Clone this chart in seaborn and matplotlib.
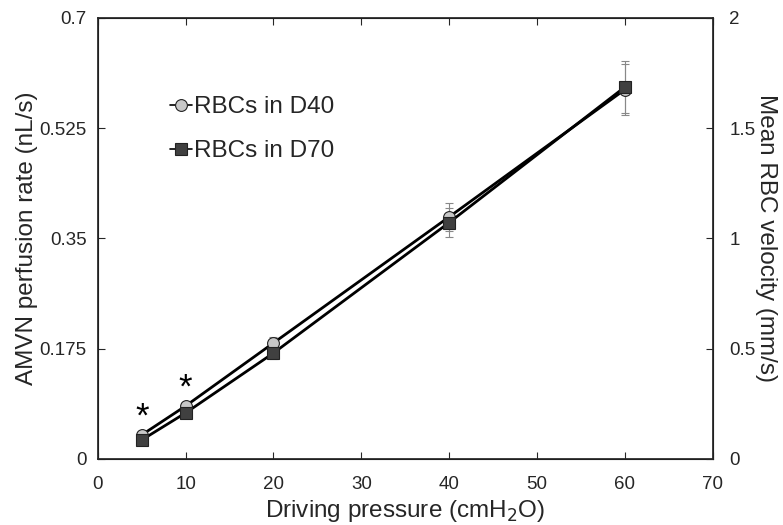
import matplotlib
matplotlib.use("Agg")
import matplotlib.pyplot as plt
import seaborn as sns
import pandas as pd
import numpy as np

pressure = [5, 10, 20, 40, 60]
d40_rate = [0.038, 0.084, 0.184, 0.384, 0.586]
d40_err = [0.004, 0.005, 0.010, 0.022, 0.040]
d70_rate = [0.030, 0.073, 0.168, 0.375, 0.590]
d70_err = [0.003, 0.005, 0.010, 0.023, 0.041]
series_names = ["RBCs in D40", "RBCs in D70"]
star_x = [5, 10]
star_y = [0.066, 0.113]

sns.set_theme(style="ticks")
plt.rcParams['font.family'] = ['Liberation Sans', 'DejaVu Sans']

df = pd.DataFrame({
    "pressure": pressure * 2,
    "rate": d40_rate + d70_rate,
    "series": [series_names[0]] * 5 + [series_names[1]] * 5,
})

fig = plt.figure(figsize=(7.83, 5.25), dpi=100)
ax = fig.add_axes([0.125, 0.126, 0.785, 0.84])

for err_vals, rate_vals in [(d40_err, d40_rate), (d70_err, d70_rate)]:
    ax.errorbar(pressure, rate_vals, yerr=err_vals, fmt='none', ecolor='#888888',
                elinewidth=0.8, capsize=3, capthick=0.8, zorder=2)

sns.lineplot(data=df, x="pressure", y="rate", hue="series", style="series",
             markers={series_names[0]: 'o', series_names[1]: 's'}, dashes=False,
             palette={series_names[0]: 'black', series_names[1]: 'black'},
             linewidth=2, ax=ax, legend=False, zorder=3)
lines = ax.get_lines()
mfc = {0: '#c8c8c8', 1: '#404040'}
i = 0
for ln in lines:
    if ln.get_marker() in ('o', 's'):
        ln.set_markerfacecolor(mfc[i])
        ln.set_markeredgecolor('#222222')
        ln.set_markersize(8.5)
        ln.set_markeredgewidth(0.8)
        ln.set_label(series_names[i])
        i += 1

for sx, sy in zip(star_x, star_y):
    ax.text(sx, sy, "*", fontsize=25, ha='center', va='center', color='black')

ax.set_xlim(0, 70)
ax.set_ylim(0, 0.7)
ax.set_xticks(range(0, 71, 10))
ax.set_yticks([0, 0.175, 0.35, 0.525, 0.7])
ax.set_yticklabels(["0", "0.175", "0.35", "0.525", "0.7"])
ax.tick_params(direction='in', top=True, labelsize=13.5, length=5, width=0.8)
ax.tick_params(axis='x', pad=12)
ax.tick_params(axis='y', pad=8)
ax.set_xlabel("Driving pressure (cmH$_2$O)", fontsize=17.5, labelpad=4)
ax.set_ylabel("AMVN perfusion rate (nL/s)", fontsize=17.5, labelpad=1)
for s in ax.spines.values():
    s.set_linewidth(0.8)
    s.set_color('black')

ax2 = ax.twinx()
ax2.set_ylim(0, 2)
ax2.set_yticks([0, 0.5, 1, 1.5, 2])
ax2.set_yticklabels(["0", "0.5", "1", "1.5", "2"])
ax2.tick_params(direction='in', labelsize=13.5, length=5, width=0.8, pad=12)
ax2.set_ylabel("Mean RBC velocity (mm/s)", fontsize=17.5, rotation=270, va='bottom', labelpad=0)

handles = [l for l in ax.get_lines() if l.get_label() in series_names]
leg = ax.legend(handles=handles, loc='upper left', bbox_to_anchor=(0.082, 0.872),
                frameon=False, fontsize=17.5, handlelength=0.9, handletextpad=0.1,
                labelspacing=0.9)
for h in leg.legend_handles:
    h.set_linewidth(1.2)

fig.savefig("out.png", dpi=100)
